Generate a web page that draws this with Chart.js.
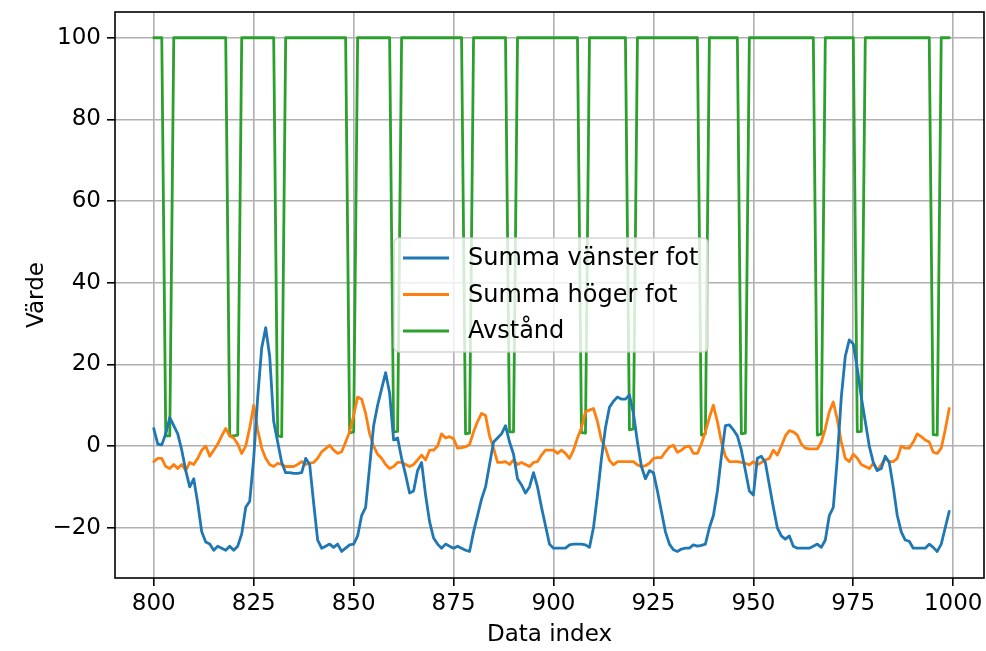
<!DOCTYPE html>
<html>
<head>
<meta charset="utf-8">
<script src="https://cdn.jsdelivr.net/npm/chart.js@4.4.1/dist/chart.umd.min.js"></script>
<style>
  html, body { margin: 0; padding: 0; background: #ffffff; }
  canvas { display: block; }
</style>
</head>
<body>
<canvas id="chart" width="986" height="651"></canvas>
<script>
// Sample index (x axis)
const dataIndex = [
  800,801,802,803,804,805,806,807,808,809,810,811,812,813,814,815,816,817,818,819,
  820,821,822,823,824,825,826,827,828,829,830,831,832,833,834,835,836,837,838,839,
  840,841,842,843,844,845,846,847,848,849,850,851,852,853,854,855,856,857,858,859,
  860,861,862,863,864,865,866,867,868,869,870,871,872,873,874,875,876,877,878,879,
  880,881,882,883,884,885,886,887,888,889,890,891,892,893,894,895,896,897,898,899,
  900,901,902,903,904,905,906,907,908,909,910,911,912,913,914,915,916,917,918,919,
  920,921,922,923,924,925,926,927,928,929,930,931,932,933,934,935,936,937,938,939,
  940,941,942,943,944,945,946,947,948,949,950,951,952,953,954,955,956,957,958,959,
  960,961,962,963,964,965,966,967,968,969,970,971,972,973,974,975,976,977,978,979,
  980,981,982,983,984,985,986,987,988,989,990,991,992,993,994,995,996,997,998,999
];

// Summa vänster fot
const leftFoot = [
  4.3,0.5,0.3,3,7,5,3,-1,-6,-10,-8,-14,-21,-23.5,-24,-25.5,-24.5,-25,-25.5,-24.5,
  -25.5,-24.5,-21.5,-15,-13.5,-3,12,24,29,22,6,1,-4,-6.5,-6.5,-6.7,-6.7,-6.5,-3,-4.5,
  -14,-23,-25,-24.5,-24,-24.8,-24,-25.8,-25,-24.2,-24,-22,-17,-15,-5,5,10,14,18,13,
  1.5,2,-3,-7,-11.5,-11,-6,-4,-12,-18.5,-22.5,-24,-25,-24,-24.5,-25,-24.5,-25,-25.5,-25.8,
  -21,-17,-13,-10,-4.5,1,2,3,5,1,-2,-8,-9.5,-11.5,-10,-6.5,-10,-15,-19.5,-24,
  -25,-25,-25,-25,-24.2,-24,-24,-24,-24.2,-24.8,-20,-12,-3,4.5,9.5,11,12,11.5,11.5,12.5,
  8,1,-5,-8,-6,-6.5,-11,-16,-21,-24,-25.4,-25.8,-25.2,-25,-25,-24.2,-24.5,-24.3,-24,-20,
  -17,-11,-2.5,5,5.2,4,2.5,-1,-6,-11,-12,-3,-2.5,-4,-9.5,-15,-20,-22,-22.8,-22,
  -24.5,-25,-25,-25,-25,-24.5,-24,-24.8,-23,-17,-15,-3,12,22,26,25,19,12,6,0,
  -4,-6,-5.5,-2.5,-4,-10,-17,-21,-23,-23.3,-25,-25,-25,-25,-24,-24.8,-25.8,-24,-20,-16
];

// Summa höger fot
const rightFoot = [
  -3.8,-3,-3,-5,-5.5,-4.5,-5.5,-4.5,-6,-4,-4.5,-3,-1,0,-2.5,-1,0.5,2.5,4.3,2.5,
  2,0.5,-1.8,0,4.5,10,4,-0.5,-3,-4.5,-5,-4.2,-4.5,-5,-5,-5,-4.5,-3.8,-4.5,-4.2,
  -4,-3,-1.4,-0.6,0.2,-1,-1.8,-1.4,1,3.5,7.5,12,11.5,8,3,0,-2,-3,-4.5,-5.5,
  -5,-4,-4,-4.5,-5,-4.5,-3.4,-2.2,-3.4,-1,-1,0,3,2,2.3,1.8,-0.5,-0.4,-0.2,0.4,
  3.5,6,8,7.5,2.5,-0.5,-4,-4,-3.8,-4.5,-3.4,-4.5,-4,-4.5,-5,-4,-3.8,-2.2,-1,-1,
  -1,-1.8,-1,-1.8,-3,-1,2,4.5,8.4,8.8,9.2,6,1.5,-0.5,-3.5,-4.6,-3.8,-3.8,-3.8,-3.8,
  -3.8,-4.6,-5,-4.8,-4.2,-3,-2.8,-2.8,-1.4,-0.2,0.2,-1.5,-1,-0.2,0,-1.8,-1.8,0.5,3.5,7,
  10,6,1,-2.5,-3.8,-3.8,-3.8,-4,-4.2,-4.6,-3.8,-4.6,-4,-3.4,-3,-1,-2.2,0,2.5,3.8,
  3.5,2.7,0.5,-0.5,-0.7,-0.7,-0.7,1,4.3,8.4,10.8,6.5,1,-3,-3.8,-2,-3,-4.5,-5,-5.5,
  -4.2,-5.9,-4.5,-3,-3.8,-3.8,-3,0,-0.5,-0.5,1,3,2.3,1.5,1,-1.5,-1.8,-0.5,4,9.2
];

// Avstånd
const distance = [
  100,100,100,2.5,2.5,100,100,100,100,100,100,100,100,100,100,100,100,100,100,2.5,
  2.5,2.7,100,100,100,100,100,100,100,100,100,2.5,2.3,100,100,100,100,100,100,100,
  100,100,100,100,100,100,100,100,100,3.2,3.5,100,100,100,100,100,100,100,100,100,
  3.5,3.6,100,100,100,100,100,100,100,100,100,100,100,100,100,100,100,100,3,3.2,
  100,100,100,100,100,100,100,100,100,3.5,3.5,100,100,100,100,100,100,100,100,100,
  100,100,100,100,100,100,100,3.3,3.2,100,100,100,100,100,100,100,100,100,100,4,
  4.2,100,100,100,100,100,100,100,100,100,100,100,100,100,100,100,100,2.7,3,100,
  100,100,100,100,100,100,100,3,3.2,100,100,100,100,100,100,100,100,100,100,100,
  100,100,100,100,100,100,2.7,3,100,100,100,100,100,100,100,100,3.5,3.6,100,100,
  100,100,100,100,100,100,100,100,100,100,100,100,100,100,100,2.8,2.7,100,100,100
];

const seriesNames = ['Summa vänster fot', 'Summa höger fot', 'Avstånd'];
const seriesColors = ['#1f77b4', '#ff7f0e', '#2ca02c'];
const xTicks = [800, 825, 850, 875, 900, 925, 950, 975, 1000];
const yTicks = [-20, 0, 20, 40, 60, 80, 100];
const xTitle = 'Data index';
const yTitle = 'Värde';

const FONT_FAMILY = '"DejaVu Sans", sans-serif';
const FONT_SIZE = 23;
const LEGEND_FONT_SIZE = 24;

function toPoints(values) {
  return values.map((v, i) => ({ x: dataIndex[i], y: v }));
}

// Black frame on all four sides of the plot area
const framePlugin = {
  id: 'frame',
  afterDatasetsDraw(chart) {
    const { ctx, chartArea: a } = chart;
    ctx.save();
    ctx.strokeStyle = '#000000';
    ctx.lineWidth = 1.6;
    ctx.strokeRect(a.left, a.top, a.right - a.left, a.bottom - a.top);
    ctx.restore();
  }
};

// Framed legend inside the plot area
const boxLegendPlugin = {
  id: 'boxLegend',
  afterDatasetsDraw(chart) {
    const ctx = chart.ctx;
    const x0 = 394, y0 = 238, w = 314, h = 114, r = 5;
    ctx.save();
    ctx.beginPath();
    ctx.moveTo(x0 + r, y0);
    ctx.lineTo(x0 + w - r, y0);
    ctx.arcTo(x0 + w, y0, x0 + w, y0 + r, r);
    ctx.lineTo(x0 + w, y0 + h - r);
    ctx.arcTo(x0 + w, y0 + h, x0 + w - r, y0 + h, r);
    ctx.lineTo(x0 + r, y0 + h);
    ctx.arcTo(x0, y0 + h, x0, y0 + h - r, r);
    ctx.lineTo(x0, y0 + r);
    ctx.arcTo(x0, y0, x0 + r, y0, r);
    ctx.closePath();
    ctx.fillStyle = 'rgba(255,255,255,0.8)';
    ctx.fill();
    ctx.strokeStyle = 'rgba(204,204,204,0.8)';
    ctx.lineWidth = 1.5;
    ctx.stroke();

    ctx.font = LEGEND_FONT_SIZE + 'px ' + FONT_FAMILY;
    ctx.textBaseline = 'middle';
    ctx.textAlign = 'left';
    chart.data.datasets.forEach((ds, i) => {
      const cy = y0 + 20 + i * 36.5;
      ctx.strokeStyle = ds.borderColor;
      ctx.lineWidth = 2.8;
      ctx.beginPath();
      ctx.moveTo(x0 + 9, cy);
      ctx.lineTo(x0 + 55, cy);
      ctx.stroke();
      ctx.fillStyle = '#000000';
      ctx.fillText(ds.label, x0 + 74, cy + 1);
    });
    ctx.restore();
  }
};

new Chart(document.getElementById('chart'), {
  type: 'line',
  data: {
    datasets: [
      { label: seriesNames[0], data: toPoints(leftFoot), borderColor: seriesColors[0] },
      { label: seriesNames[1], data: toPoints(rightFoot), borderColor: seriesColors[1] },
      { label: seriesNames[2], data: toPoints(distance), borderColor: seriesColors[2] }
    ]
  },
  options: {
    responsive: false,
    animation: false,
    events: [],
    layout: { padding: { left: 0, top: 12, right: 2, bottom: 0 } },
    elements: {
      line: { borderWidth: 2.8, tension: 0, fill: false, borderCapStyle: 'round', borderJoinStyle: 'round' },
      point: { radius: 0 }
    },
    plugins: {
      legend: { display: false },
      tooltip: { enabled: false }
    },
    scales: {
      x: {
        type: 'linear',
        min: 790.3,
        max: 1007.7,
        afterFit(scale) {
          scale.height = 73;
          scale.paddingLeft = 0;
          scale.paddingRight = 0;
        },
        afterBuildTicks(scale) { scale.ticks = xTicks.map(v => ({ value: v })); },
        grid: { color: '#b0b0b0', lineWidth: 1.6, tickLength: 8, tickColor: '#000000', tickWidth: 1.6 },
        border: { display: false },
        ticks: {
          color: '#000000',
          padding: 4,
          maxRotation: 0,
          autoSkip: false,
          font: { family: FONT_FAMILY, size: FONT_SIZE },
          callback: v => String(v)
        },
        title: {
          display: true,
          text: xTitle,
          color: '#000000',
          padding: { top: 0, bottom: 2 },
          font: { family: FONT_FAMILY, size: FONT_SIZE }
        }
      },
      y: {
        type: 'linear',
        min: -32.3,
        max: 106.3,
        afterFit(scale) {
          scale.width = 115;
          scale.paddingTop = 0;
          scale.paddingBottom = 0;
        },
        afterBuildTicks(scale) { scale.ticks = yTicks.map(v => ({ value: v })); },
        grid: { color: '#b0b0b0', lineWidth: 1.6, tickLength: 8, tickColor: '#000000', tickWidth: 1.6 },
        border: { display: false },
        ticks: {
          color: '#000000',
          padding: 6,
          autoSkip: false,
          font: { family: FONT_FAMILY, size: FONT_SIZE },
          callback: v => (v < 0 ? '\u2212' + Math.abs(v) : String(v))
        },
        title: {
          display: true,
          text: yTitle,
          color: '#000000',
          padding: { top: 23, bottom: 0 },
          font: { family: FONT_FAMILY, size: FONT_SIZE }
        }
      }
    }
  },
  plugins: [framePlugin, boxLegendPlugin]
});
</script>
</body>
</html>
